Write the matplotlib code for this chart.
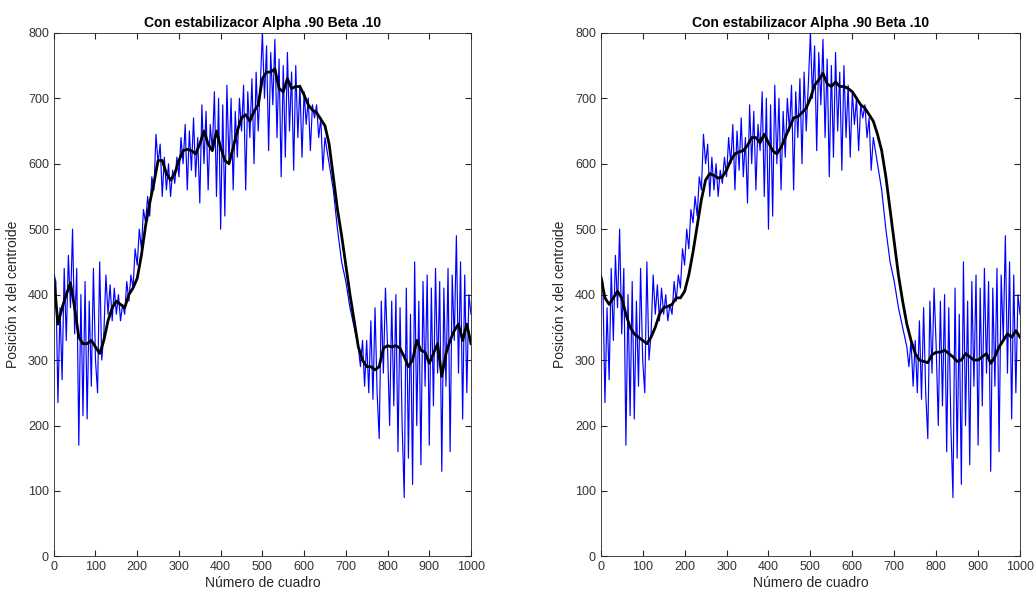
import numpy as np
import matplotlib
matplotlib.use("Agg")
import matplotlib.pyplot as plt

plt.rcParams['font.family'] = ['Liberation Sans', 'DejaVu Sans']

# raw centroid x position, sampled every 5 frames
frames_raw = np.arange(0, 1001, 5)
pos_raw = [
    430, 420, 235, 380, 270, 440, 330, 460, 380, 500,
    340, 440, 170, 400, 215, 420, 210, 390, 260, 440,
    300, 250, 450, 300, 340, 430, 370, 415, 360, 410,
    370, 400, 360, 385, 370, 420, 390, 430, 410, 470,
    445, 500, 470, 530, 510, 550, 520, 580, 560, 645,
    600, 630, 550, 610, 560, 600, 550, 590, 570, 610,
    580, 640, 600, 660, 560, 650, 590, 670, 580, 640,
    540, 690, 600, 680, 560, 660, 620, 710, 550, 700,
    500, 690, 520, 720, 600, 700, 560, 680, 610, 700,
    650, 720, 560, 710, 640, 730, 600, 740, 650, 720,
    800, 700, 780, 620, 770, 690, 790, 640, 760, 580,
    750, 610, 770, 650, 740, 590, 750, 640, 720, 610,
    710, 660, 700, 620, 690, 670, 690, 640, 670, 590,
    640, 620, 600, 580, 560, 530, 500, 475, 450, 435,
    420, 400, 380, 365, 350, 335, 320, 290, 330, 260,
    330, 250, 360, 240, 380, 250, 180, 390, 280, 410,
    320, 200, 390, 230, 400, 160, 380, 200, 90, 410,
    150, 370, 110, 450, 200, 390, 140, 420, 260, 430,
    170, 410, 230, 440, 280, 420, 130, 410, 260, 440,
    160, 430, 330, 490, 280, 450, 210, 430, 250, 400,
    370,
]

# stabilized output, sampled every 10 frames
frames_filt = np.arange(0, 1001, 10)
pos_left = [
    428, 355, 380, 400, 418, 380, 335, 325, 325, 330,
    320, 310, 330, 360, 380, 390, 385, 380, 400, 410,
    425, 460, 505, 540, 570, 605, 605, 585, 575, 585,
    605, 620, 622, 620, 615, 630, 650, 630, 620, 650,
    625, 605, 600, 625, 650, 670, 675, 665, 680, 690,
    730, 740, 740, 745, 715, 710, 730, 715, 718, 718,
    705, 690, 682, 678, 668, 658, 630, 580, 530, 490,
    445, 400, 360, 320, 300, 290, 290, 285, 290, 318,
    322, 320, 322, 318, 305, 290, 300, 330, 315, 312,
    295, 310, 325, 275, 310, 330, 345, 355, 330, 355,
    325,
]
pos_right = [
    428, 395, 385, 395, 405, 395, 370, 350, 340, 335,
    330, 325, 335, 350, 370, 380, 382, 385, 395, 395,
    405, 430, 465, 505, 545, 575, 585, 582, 578, 580,
    590, 605, 615, 618, 620, 628, 640, 640, 632, 645,
    632, 620, 615, 625, 640, 655, 670, 672, 678, 685,
    700, 720, 728, 738, 722, 718, 725, 718, 718, 715,
    710, 700, 690, 685, 675, 665, 645, 620, 580, 530,
    480, 430, 390, 355, 330, 310, 300, 298, 296, 308,
    312, 312, 315, 310, 305, 298, 300, 310, 305, 300,
    300, 305, 310, 295, 305, 320, 330, 340, 335, 345,
    335,
]

fig = plt.figure(figsize=(10.34, 5.97), dpi=100)
ax1 = fig.add_axes([0.052, 0.068, 0.4035, 0.877])
ax2 = fig.add_axes([0.581, 0.068, 0.4055, 0.877])

for ax, filt in [(ax1, pos_left), (ax2, pos_right)]:
    ax.plot(frames_raw, pos_raw, color="#0000ff", lw=0.85)
    ax.plot(frames_filt, filt, color="black", lw=2.0)
    ax.set_xlim(0, 1000)
    ax.set_ylim(0, 800)
    ax.set_xticks(range(0, 1001, 100))
    ax.set_yticks(range(0, 801, 100))
    ax.tick_params(direction="in", top=True, right=True, length=4,
                   labelsize=9, colors="#262626", labelcolor="#333333")
    for s in ax.spines.values():
        s.set_color("#262626")
        s.set_linewidth(0.6)
    ax.set_title("Con estabilizacor Alpha .90 Beta .10", fontsize=10,
                 fontweight="bold", pad=4)
    ax.set_xlabel("Número de cuadro", fontsize=10, color="#262626", labelpad=2)
    ax.set_ylabel("Posición x del centroide", fontsize=10, color="#262626", labelpad=6)

fig.savefig("out.png", dpi=100)
